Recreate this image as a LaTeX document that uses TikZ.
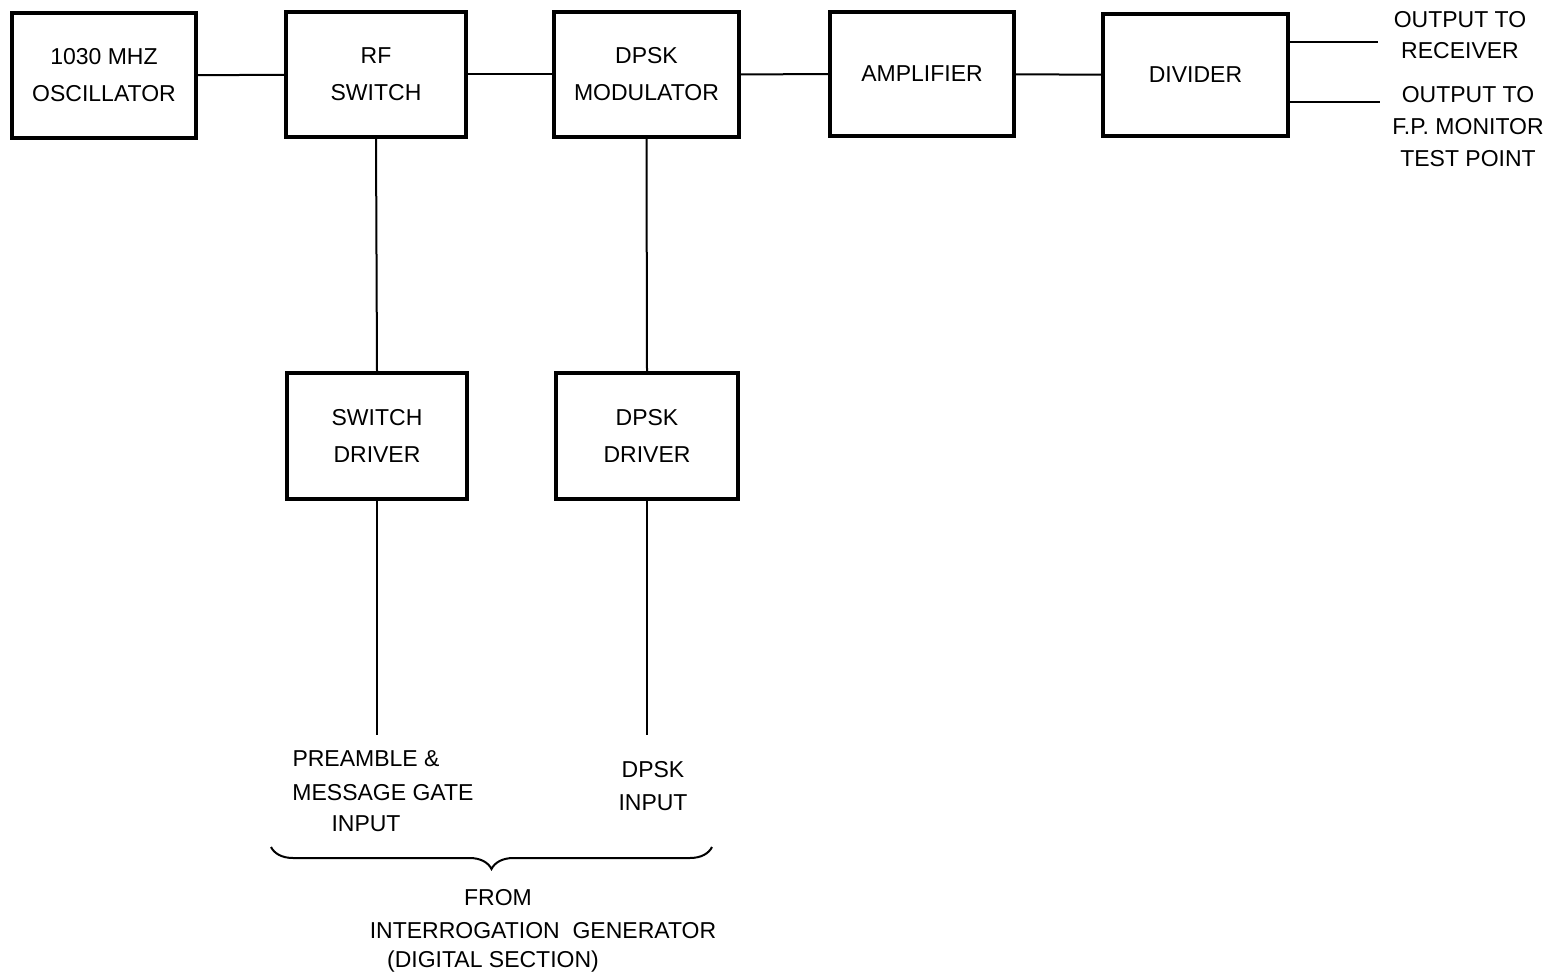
\documentclass[tikz,border=0pt]{standalone}
\usepackage{fontspec}
\setmainfont{Liberation Sans}
\usetikzlibrary{decorations.pathreplacing}
\begin{document}
\begin{tikzpicture}[x=0.5pt,y=-0.5pt,
  blk/.style={draw,line width=2pt,rectangle,align=center,inner sep=0pt},
  lbl/.style={align=center,inner sep=0pt},
  wire/.style={line width=1pt},
  every node/.style={font=\fontsize{11.5}{18.5}\selectfont}]
\useasboundingbox (0,0) rectangle (1554,979);
% blocks
\node[blk,minimum width=92pt,minimum height=62.5pt] (osc) at (104,75.5) {1030 MHZ\\OSCILLATOR};
\node[blk,minimum width=90pt,minimum height=62.5pt] (rf) at (376,74.5) {RF\\SWITCH};
\node[blk,minimum width=92.5pt,minimum height=62.5pt] (mod) at (646.5,74.5) {DPSK\\MODULATOR};
\node[blk,minimum width=92pt,minimum height=62pt] (amp) at (922,74) {AMPLIFIER};
\node[blk,minimum width=92.5pt,minimum height=61pt] (div) at (1195.5,75) {DIVIDER};
\node[blk,minimum width=90pt,minimum height=63pt] (swd) at (377,436) {SWITCH\\DRIVER};
\node[blk,minimum width=91pt,minimum height=63pt] (dpd) at (647,436) {DPSK\\DRIVER};
% free ends
\coordinate (o1) at (1378,42);
\coordinate (o2) at (1380,102);
\coordinate (i1) at (373,735);
\coordinate (i2) at (647,735);
\coordinate (b1) at (271,847);
\coordinate (b2) at (712,847);
% connectors
\draw[wire] (osc) -- (rf);
\draw[wire] (rf) -- (mod);
\draw[wire] (mod) -- (amp);
\draw[wire] (amp) -- (div);
\draw[wire] (div.east |- o1) -- (o1);
\draw[wire] (div.east |- o2) -- (o2);
\draw[wire] (rf.south) -- (swd.north);
\draw[wire] (mod.south) -- (dpd.north);
\draw[wire] (swd.south) -- (swd.south |- i1);
\draw[wire] (dpd.south) -- (dpd.south |- i2);
\draw[wire,decorate,decoration={brace,mirror,amplitude=11pt}] (b1) -- (b2);
% labels
\node[lbl,font=\fontsize{11.5}{15.5}\selectfont] (out1) at (1460,35) {OUTPUT TO\\RECEIVER};
\node[lbl,font=\fontsize{11.5}{16}\selectfont] (out2) at (1468,127) {OUTPUT TO\\F.P. MONITOR\\TEST POINT};
\node[lbl] (pre1) at (366,759) {PREAMBLE \&};
\node[lbl] (pre2) at (383,793) {MESSAGE GATE};
\node[lbl] (pre3) at (366,824) {INPUT};
\node[lbl,font=\fontsize{11.5}{16.5}\selectfont] (dpin) at (653,786) {DPSK\\INPUT};
\node[lbl] (fr1) at (498,898) {FROM};
\node[lbl] (fr2) at (543,931) {INTERROGATION\ \ GENERATOR};
\node[lbl] (fr3) at (493,962) {(DIGITAL SECTION)};
\end{tikzpicture}
\end{document}
